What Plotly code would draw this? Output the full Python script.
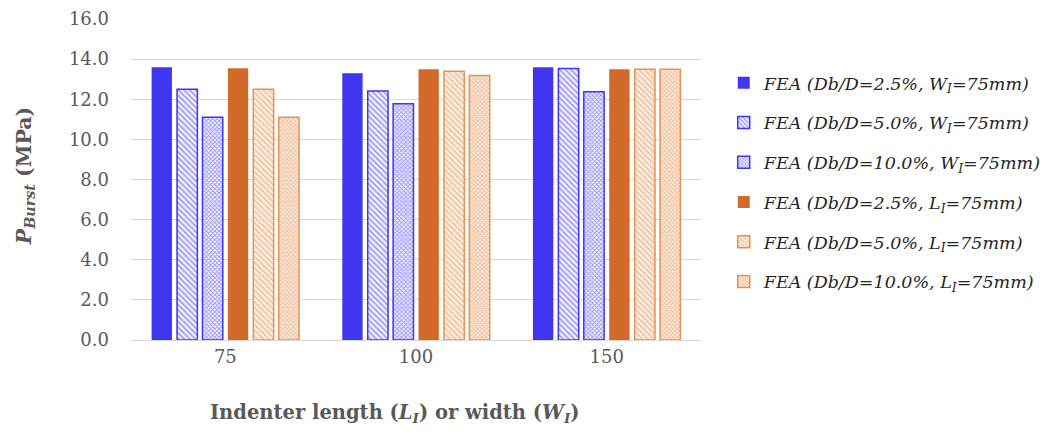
import plotly.graph_objects as go

categories = ["75", "100", "150"]

series_names = [
    "FEA (Db/D=2.5%, W<sub>I</sub>=75mm)",
    "FEA (Db/D=5.0%, W<sub>I</sub>=75mm)",
    "FEA (Db/D=10.0%, W<sub>I</sub>=75mm)",
    "FEA (Db/D=2.5%, L<sub>I</sub>=75mm)",
    "FEA (Db/D=5.0%, L<sub>I</sub>=75mm)",
    "FEA (Db/D=10.0%, L<sub>I</sub>=75mm)",
]

w_25 = [13.59, 13.29, 13.59]
w_50 = [12.50, 12.41, 13.53]
w_100 = [11.10, 11.78, 12.38]
l_25 = [13.54, 13.49, 13.49]
l_50 = [12.50, 13.39, 13.49]
l_100 = [11.10, 13.18, 13.49]

series_values = [w_25, w_50, w_100, l_25, l_50, l_100]

BLUE = "#4136F0"
ORANGE = "#D26A2A"
ORANGE_EDGE = "#E49358"
TEXT = "#595959"
SERIF = "DejaVu Serif"

styles = [
    dict(color=BLUE, line=dict(color=BLUE, width=0)),
    dict(color="white", line=dict(color=BLUE, width=1.5),
         pattern=dict(shape="\\", fgcolor=BLUE, bgcolor="#F4F3FE", size=4, solidity=0.4)),
    dict(color="white", line=dict(color=BLUE, width=1.5),
         pattern=dict(shape="x", fgcolor=BLUE, bgcolor="#F4F3FE", size=3, solidity=0.5)),
    dict(color=ORANGE, line=dict(color=ORANGE, width=0)),
    dict(color="white", line=dict(color=ORANGE_EDGE, width=1.5),
         pattern=dict(shape="\\", fgcolor=ORANGE_EDGE, bgcolor="#FBEFE4", size=4, solidity=0.4)),
    dict(color="white", line=dict(color=ORANGE_EDGE, width=1.5),
         pattern=dict(shape="x", fgcolor=ORANGE_EDGE, bgcolor="#FBEFE4", size=3, solidity=0.55)),
]

fig = go.Figure()
for i, (name, vals, st) in enumerate(zip(series_names, series_values, styles)):
    fig.add_trace(go.Bar(
        x=categories, y=vals, name=name, marker=st,
        legendgroup=f"g{i}",
    ))

fig.update_layout(
    width=1053, height=435,
    margin=dict(l=130, r=351, t=19, b=95, autoexpand=False),
    paper_bgcolor="white", plot_bgcolor="white",
    barmode="group", bargap=0.2, bargroupgap=0.2,
    font=dict(family=SERIF, color=TEXT, size=18),
    showlegend=True,
    legend=dict(
        x=1.038, xanchor="left", y=0.857, yanchor="top",
        font=dict(family=SERIF, size=17.5, color="#262626", style="italic"),
        tracegroupgap=14, bgcolor="rgba(0,0,0,0)",
    ),
    xaxis=dict(
        type="category", showgrid=False, showline=True, linecolor="#D9D9D9",
        linewidth=1, ticks="", tickfont=dict(family=SERIF, size=18, color=TEXT),
    ),
    yaxis=dict(
        range=[0, 16], dtick=2, tickformat=".1f", showgrid=True,
        gridcolor="#D9D9D9", gridwidth=1, zeroline=False, showline=False,
        ticks="", ticklabelstandoff=20, tickfont=dict(family=SERIF, size=18, color=TEXT),
    ),
    annotations=[
        dict(text="<b>Indenter length (<i>L<sub>I</sub></i>) or width (<i>W<sub>I</sub></i>)</b>",
             xref="paper", yref="paper", x=(395 - 130) / 572, y=-0.23,
             xanchor="center", yanchor="middle", showarrow=False,
             font=dict(family=SERIF, size=19.5, color=TEXT)),
        dict(text="<b><i>P<sub>Burst</sub></i> (MPa)</b>",
             xref="paper", yref="paper", x=(25 - 130) / 572, y=0.51,
             xanchor="center", yanchor="middle", showarrow=False, textangle=-90,
             font=dict(family=SERIF, size=20.5, color=TEXT)),
    ],
)

fig.write_html("out.html")
